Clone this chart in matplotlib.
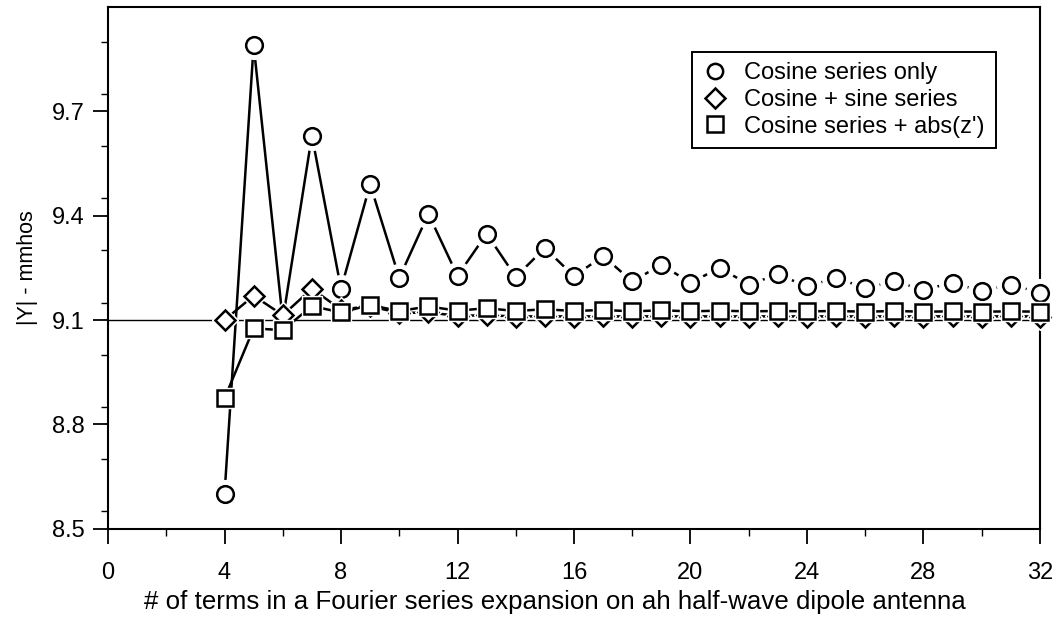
import matplotlib
matplotlib.use("Agg")
import matplotlib.pyplot as plt
from matplotlib.lines import Line2D
from matplotlib.ticker import MultipleLocator

plt.rcParams['font.family'] = ['Liberation Sans', 'DejaVu Sans']

n_terms = list(range(4, 33))
cosine_only = [8.60, 9.89, 9.10, 9.63, 9.19, 9.49, 9.221, 9.405, 9.227, 9.348,
               9.224, 9.307, 9.226, 9.284, 9.211, 9.259, 9.207, 9.250, 9.202,
               9.231, 9.197, 9.221, 9.192, 9.211, 9.187, 9.207, 9.183, 9.202, 9.178]
cos_plus_sine = [9.100, 9.170, 9.114, 9.190, 9.130, 9.140, 9.120, 9.122, 9.112,
                 9.114, 9.110, 9.111, 9.110, 9.111, 9.110, 9.111, 9.110, 9.111,
                 9.110, 9.111, 9.110, 9.111, 9.110, 9.111, 9.110, 9.111, 9.110,
                 9.111, 9.110]
cos_abs_z = [8.875, 9.076, 9.071, 9.140, 9.122, 9.143, 9.126, 9.139, 9.127,
             9.134, 9.126, 9.131, 9.126, 9.129, 9.125, 9.128, 9.125, 9.127,
             9.125, 9.126, 9.125, 9.126, 9.124, 9.126, 9.124, 9.125, 9.124,
             9.125, 9.124]
labels = ["Cosine series only", "Cosine + sine series", "Cosine series + abs(z')"]
markers = ["o", "D", "s"]
msizes = [12, 10.5, 11]
halo_extra = [8, 3, 3]
y_ref = 9.1

fig = plt.figure(figsize=(10.53, 6.2), dpi=100)
ax = fig.add_axes([0.1026, 0.147, 0.885, 0.842])

series = [cosine_only, cos_plus_sine, cos_abs_z]
for i, (ys, m, ms, he) in enumerate(zip(series, markers, msizes, halo_extra)):
    z = 2 + 3 * i
    ax.plot(n_terms, ys, color='black', lw=1.8, zorder=z, clip_on=False)
    ax.plot(n_terms, ys, linestyle='none', marker=m, ms=ms + he,
            mfc='white', mec='white', mew=1, zorder=z + 1, clip_on=False)
    ax.plot(n_terms, ys, linestyle='none', marker=m, ms=ms,
            mfc='white', mec='black', mew=1.8, zorder=z + 2, clip_on=False)

ax.axhline(y_ref, color='black', lw=1.0, zorder=4.5)

ax.set_xlim(0, 32)
ax.set_ylim(8.5, 10.0)
ax.xaxis.set_major_locator(MultipleLocator(4))
ax.xaxis.set_minor_locator(MultipleLocator(2))
ax.set_yticks([8.5, 8.8, 9.1, 9.4, 9.7])
ax.yaxis.set_minor_locator(MultipleLocator(0.15))
ax.tick_params(axis='both', which='major', direction='out', length=11, width=1.3,
               labelsize=17, colors='black')
ax.tick_params(axis='both', which='minor', direction='out', length=5, width=1.0)
ax.tick_params(axis='x', pad=13)
ax.tick_params(axis='y', pad=6)
for s in ax.spines.values():
    s.set_linewidth(1.5)

ax.set_xlabel("# of terms in a Fourier series expansion on ah half-wave dipole antenna",
              fontsize=18.6)
ax.xaxis.set_label_coords(0.48, -0.118)
ax.set_ylabel("|Y| - mmhos", fontsize=15.5, labelpad=10)

handles = [Line2D([], [], linestyle='none', marker=m, ms=ms, mfc='white',
                  mec='black', mew=1.8) for m, ms in zip(markers, [11, 10, 11])]
leg = ax.legend(handles, labels, loc='upper right', bbox_to_anchor=(0.965, 0.937),
                fontsize=17, frameon=True, fancybox=False, edgecolor='black',
                framealpha=1, handlelength=1.0, handletextpad=0.75,
                labelspacing=0.2, borderpad=0.45)
leg.set_zorder(20)
leg.get_frame().set_linewidth(1.4)

fig.savefig("out.png", dpi=100)
